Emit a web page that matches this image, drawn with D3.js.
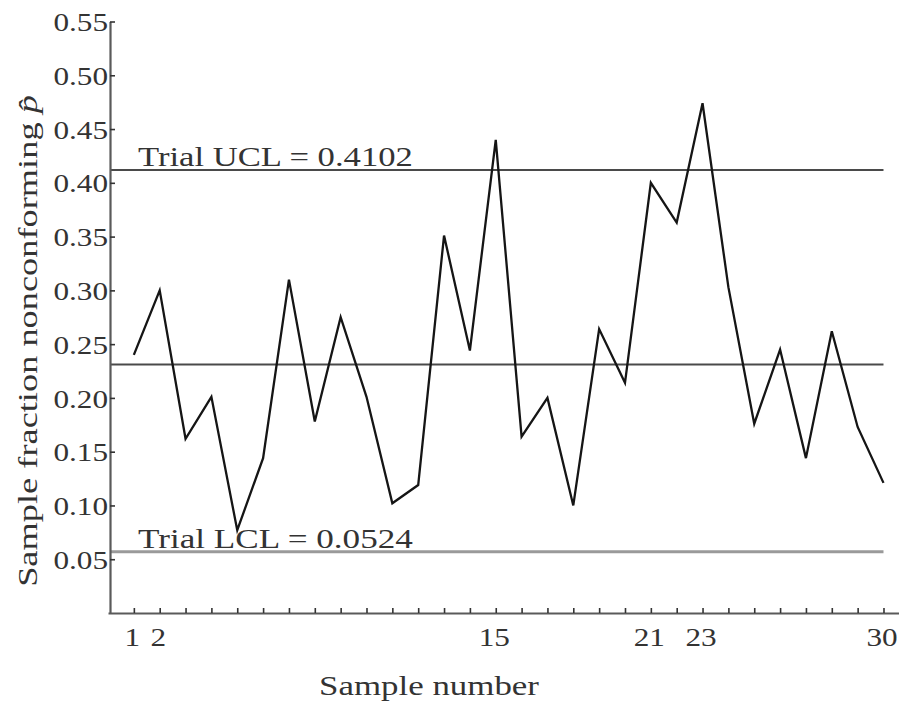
<!DOCTYPE html>
<html>
<head>
<meta charset="utf-8">
<script src="https://cdn.jsdelivr.net/npm/d3@7"></script>
<style>
  html, body { margin: 0; padding: 0; background: #fff; }
  svg { display: block; }
  svg text { font-family: "Liberation Serif", "Times New Roman", Tinos, "Nimbus Roman", FreeSerif, serif; fill: #333; }
</style>
</head>
<body>
<svg id="chart" width="899" height="704"></svg>
<script>
// ---- data ----
const sampleNumbers = [1,2,3,4,5,6,7,8,9,10,11,12,13,14,15,16,17,18,19,20,21,22,23,24,25,26,27,28,29,30];
const fractionNonconforming = [0.240,0.300,0.162,0.201,0.077,0.144,0.310,0.178,0.275,0.201,
                               0.102,0.119,0.351,0.244,0.440,0.164,0.200,0.100,0.264,0.214,
                               0.400,0.363,0.474,0.303,0.176,0.245,0.144,0.262,0.173,0.121];
const limitNames  = ["UCL", "CL", "LCL"];
const limitValues = [0.412, 0.231, 0.057];
const limitLabels = ["Trial UCL = 0.4102", "", "Trial LCL = 0.0524"];
const yTickValues = [0.05,0.10,0.15,0.20,0.25,0.30,0.35,0.40,0.45,0.50,0.55];
const xTickLabels = [1,2,15,21,23,30];
const xTitle = "Sample number";
const yTitle = "Sample fraction nonconforming ";

// ---- layout ----
const svg = d3.select("#chart");
const x = d3.scaleLinear().domain([0, 30.6]).range([108, 899]);
const y = d3.scaleLinear().domain([0, 0.55]).range([613, 21.5]);
const axisColor = "#5a5a5a";
const fontStack = '"Liberation Serif", "Times New Roman", Tinos, "Nimbus Roman", FreeSerif, serif';

function stretch(sel, tx, ty, s, rot) {
  sel.attr("x", 0).attr("y", 0)
     .attr("transform", `translate(${tx},${ty})` + (rot ? ` rotate(${rot})` : "") + ` scale(${s},1)`);
}

// control lines
svg.append("g").selectAll("line").data(limitValues).join("line")
  .attr("x1", 110).attr("x2", x(30))
  .attr("y1", d => y(d)).attr("y2", d => y(d))
  .attr("stroke", (d, i) => limitNames[i] === "LCL" ? "#9a9a9a" : "#4a4a4a")
  .attr("stroke-width", (d, i) => limitNames[i] === "LCL" ? 3 : 2);

// data line
const line = d3.line().x((d, i) => x(sampleNumbers[i])).y(d => y(d));
svg.append("path").datum(fractionNonconforming)
  .attr("d", line).attr("fill", "none")
  .attr("stroke", "#151515").attr("stroke-width", 2.3).attr("stroke-linejoin", "miter");

// y axis
const yAxis = svg.append("g").attr("transform", "translate(110,0)")
  .call(d3.axisLeft(y).tickValues(yTickValues).tickFormat(d3.format(".2f")).tickSize(-5).tickSizeOuter(0));
yAxis.attr("font-family", fontStack);
yAxis.select(".domain").attr("stroke", axisColor).attr("stroke-width", 2.2);
yAxis.selectAll(".tick line").attr("stroke", "#333").attr("stroke-width", 1.6);
yAxis.selectAll(".tick text")
  .attr("text-anchor", "end").attr("font-size", 26)
  .each(function() { stretch(d3.select(this), -2, 0, 1.2); })
  .attr("dy", "0.35em");

// x axis
const xAxis = svg.append("g").attr("transform", "translate(0,613)")
  .call(d3.axisBottom(x).tickValues(sampleNumbers)
    .tickFormat(d => xTickLabels.includes(d) ? String(d) : "")
    .tickSize(-5).tickSizeOuter(0));
xAxis.attr("font-family", fontStack);
xAxis.select(".domain").attr("stroke", axisColor).attr("stroke-width", 2.2);
xAxis.selectAll(".tick line").attr("stroke", "#333").attr("stroke-width", 1.6);
xAxis.selectAll(".tick text")
  .attr("text-anchor", "middle").attr("font-size", 26)
  .each(function() { stretch(d3.select(this), -2, 33, 1.2); })
  .attr("dy", 0);

// limit labels
limitLabels.forEach((lab, i) => {
  if (!lab) return;
  const t = svg.append("text").attr("font-size", 27).attr("text-anchor", "start").text(lab);
  const w = t.node().getComputedTextLength();
  stretch(t, 138, y(limitValues[i]) - 4, 275 / w);
});

// x title
{
  const t = svg.append("text").attr("font-size", 27).attr("text-anchor", "middle").text(xTitle);
  const w = t.node().getComputedTextLength();
  stretch(t, 429, 695, 220 / w);
}

// y title
{
  const t = svg.append("text").attr("font-size", 27).attr("text-anchor", "middle");
  t.append("tspan").text(yTitle);
  t.append("tspan").attr("font-style", "italic").text("p\u0302");
  const w = t.node().getComputedTextLength();
  stretch(t, 37, 341, 492 / w, -90);
}
</script>
</body>
</html>
